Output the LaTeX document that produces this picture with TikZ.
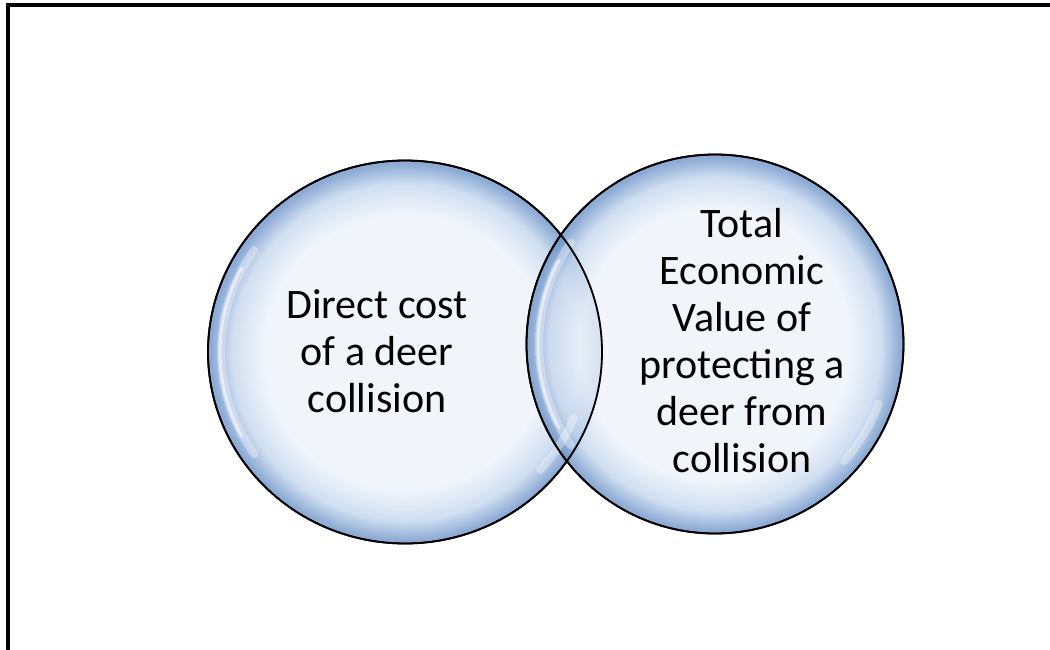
\documentclass[tikz,border=0pt]{standalone}
\usepackage{fontspec}
\setmainfont{Carlito}
\usetikzlibrary{shapes.geometric}

% colours of the bubbles
\definecolor{bubin}{RGB}{237,242,249}
\definecolor{bubmid}{RGB}{196,214,237}
\definecolor{bubedge}{RGB}{112,150,202}
\pgfdeclareradialshading{bubble}{\pgfpoint{0bp}{0bp}}{%
  color(0bp)=(bubin); color(18bp)=(bubin); color(22bp)=(bubmid);
  color(24.6bp)=(bubedge); color(25bp)=(bubedge); color(50bp)=(bubedge)}

\begin{document}
\begin{tikzpicture}[
    x=1pt, y=-1pt,
    % Global styles
    bubble/.style={ellipse, draw=black, line width=1.8pt, shade, shading=bubble,
                   fill opacity=0.8, inner sep=0pt},
    glint/.style={white, line cap=round, line width=8pt, opacity=0.35},
    glintcore/.style={white, line cap=round, line width=3pt, opacity=0.55},
    label/.style={align=center, text=black, font=\fontsize{42}{47}\selectfont}
    ]
    \useasboundingbox (0,0) rectangle (1050,650);
    \clip (0,0) rectangle (1050,650);

    % ===========================
    % FRAME (cut by the page at right and bottom)
    % ===========================
    \draw[line width=4pt] (8,5) rectangle (1070,680);

    % ===========================
    % BUBBLES
    % ===========================
    \node[bubble, minimum width=394pt, minimum height=383pt] (cost) at (405,352) {};
    \node[bubble, minimum width=377pt, minimum height=379pt] (tev) at (715,344) {};

    % Highlights (y points down, so positive angles are below)
    \draw[glint] ([shift={(145:184 and 178)}]cost.center)
        arc[start angle=145, end angle=215, x radius=184, y radius=178];
    \draw[glintcore] ([shift={(152:185 and 179)}]cost.center)
        arc[start angle=152, end angle=208, x radius=185, y radius=179];
    \draw[glint] ([shift={(22:182 and 176)}]cost.center)
        arc[start angle=22, end angle=42, x radius=182, y radius=176];
    \draw[glint] ([shift={(145:176 and 177)}]tev.center)
        arc[start angle=145, end angle=215, x radius=176, y radius=177];
    \draw[glintcore] ([shift={(152:177 and 178)}]tev.center)
        arc[start angle=152, end angle=208, x radius=177, y radius=178];
    \draw[glint] ([shift={(20:174 and 175)}]tev.center)
        arc[start angle=20, end angle=42, x radius=174, y radius=175];

    % Outlines again on top of the glints
    \draw[line width=1.8pt] (cost.center) ellipse[x radius=197, y radius=191.5];
    \draw[line width=1.8pt] (tev.center) ellipse[x radius=188.5, y radius=189.5];

    % ===========================
    % TEXTS
    % ===========================
    \node[label] (costtext) at (377,351) {Direct cost\\of a deer\\collision};
    \node[label] (tevtext) at (742,341)
        {Total\\Economic\\Value of\\protecting a\\deer from\\collision};

\end{tikzpicture}
\end{document}
